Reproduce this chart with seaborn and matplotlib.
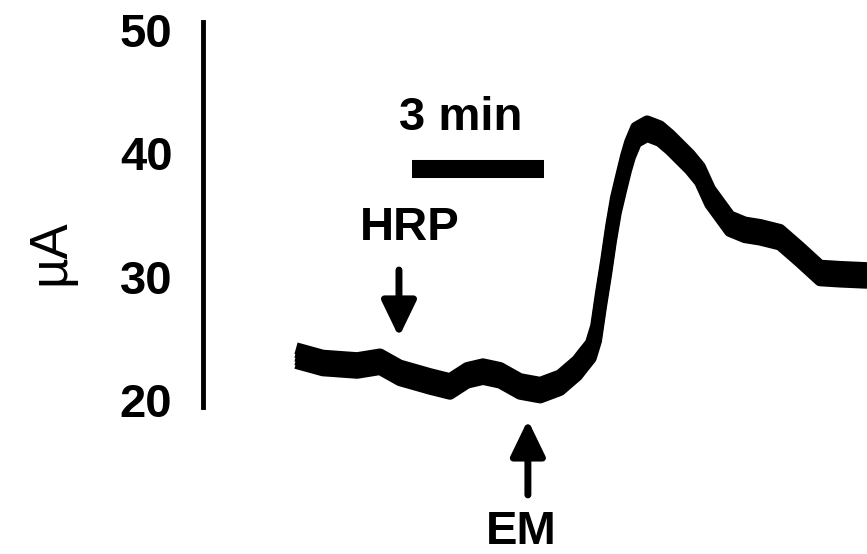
import matplotlib
matplotlib.use("Agg")
import matplotlib.pyplot as plt
import numpy as np
import pandas as pd
import seaborn as sns

# trace: time (min) vs current (uA)
time_min = [0.00, 0.61, 1.39, 1.91, 2.36, 3.05, 3.50, 3.89, 4.25, 4.64, 5.09,
            5.55, 6.00, 6.39, 6.52, 6.70, 6.82, 6.93, 7.05, 7.16, 7.27, 7.39,
            7.50, 7.59, 7.73, 7.98, 8.27, 8.50, 8.95, 9.18, 9.41, 9.86, 10.20,
            10.55, 11.00, 11.45, 11.91, 12.36, 12.98]
current_ua = [23.6, 23.0, 22.8, 23.1, 22.2, 21.5, 21.1, 22.0, 22.3, 22.0, 21.1,
              20.8, 21.4, 22.6, 23.2, 24.0, 25.4, 28.1, 30.8, 33.5, 35.8, 37.6,
              39.2, 40.3, 41.5, 42.0, 41.6, 40.9, 39.3, 38.3, 36.5, 34.3, 33.8,
              33.6, 33.2, 31.8, 30.3, 30.2, 30.1]
y_ticks = [20, 30, 40, 50]
hrp_time = 2.34
em_time = 5.27
scale_bar = (2.636, 5.636)  # 3 min

df = pd.DataFrame({"t": time_min, "uA": current_ua})
# recording noise makes the trace look thick vertically
band = pd.concat([df.assign(uA=df["uA"] + off, k=i)
                  for i, off in enumerate([-0.6, -0.3, 0.0, 0.3, 0.6])])

sns.set_style("white")
plt.rcParams["font.family"] = ["Liberation Sans", "DejaVu Sans"]
plt.rcParams["text.color"] = "black"
plt.rcParams["ytick.color"] = "black"
plt.rcParams["axes.edgecolor"] = "black"

fig = plt.figure(figsize=(8.67, 5.54), dpi=100)
ax = fig.add_axes([203 / 867, 0, 664 / 867, 1])

sns.lineplot(data=band, x="t", y="uA", units="k", estimator=None, ax=ax,
             color="black", lw=8.5, solid_capstyle="butt",
             solid_joinstyle="round")

ax.set_xlim(-2.114, 12.977)
ax.set_ylim(7.51, 52.44)
ax.set_yticks(y_ticks)
ax.set_yticklabels([str(y) for y in y_ticks], fontsize=34, fontweight="bold")
ax.tick_params(axis="y", length=0, pad=22)
ax.set_xticks([])
ax.set_xlabel("")
ax.set_ylabel("")
for s in ["top", "right", "bottom"]:
    ax.spines[s].set_visible(False)
ax.spines["left"].set_linewidth(3.5)
ax.spines["left"].set_bounds(19.43, 50.65)

# scale bar
ax.plot(scale_bar, [38.73, 38.73], color="black", lw=13, solid_capstyle="butt")
ax.text(3.75, 42.87, "3 min", ha="center", va="center", fontsize=34,
        fontweight="bold")

# arrows
arrow = dict(arrowstyle="-|>,head_length=1.55,head_width=0.75", color="black",
             lw=5, mutation_scale=14, shrinkA=0, shrinkB=0)
ax.annotate("", xy=(hrp_time, 25.11), xytext=(hrp_time, 30.54), arrowprops=arrow)
ax.text(2.59, 33.95, "HRP", ha="center", va="center", fontsize=34,
        fontweight="bold")
ax.annotate("", xy=(em_time, 18.38), xytext=(em_time, 12.3), arrowprops=arrow)
ax.text(5.11, 9.3, "EM", ha="center", va="center", fontsize=34,
        fontweight="bold")

fig.text(50 / 867, 1 - 252 / 554, "µA", rotation=90, ha="center", va="center",
         fontsize=38)

fig.savefig("out.png", dpi=100)
